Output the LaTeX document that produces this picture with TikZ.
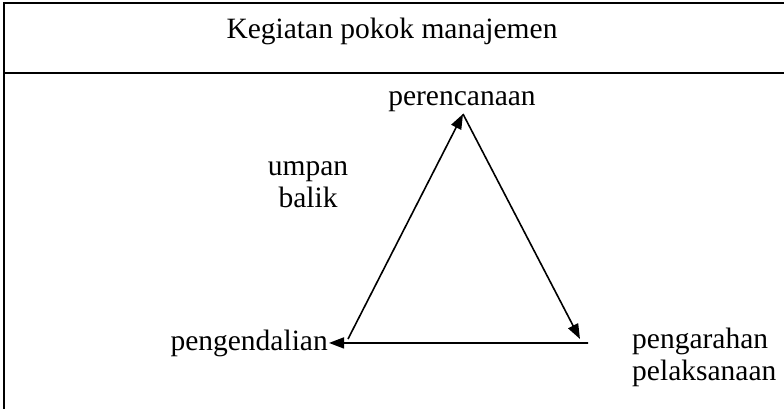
\documentclass[tikz,border=0pt]{standalone}
\usepackage{fontspec}
\setmainfont{Liberation Serif}
\usepackage{tikz}
\usetikzlibrary{arrows.meta,positioning}
\tikzset{
  cycletext/.style={
    inner sep=0pt, align=left,
    font=\fontsize{29.5}{32}\selectfont
  },
  cyclearrow/.style={-{Triangle[length=15pt,width=11pt]}, line width=1.6pt},
  tablerule/.style={line width=2.8pt},
}

\begin{document}
\begin{tikzpicture}[x=1pt,y=-1pt]
  \useasboundingbox (0,0) rectangle (784,409);
  % table frame
  \draw[tablerule] (784,3) -- (4,3) -- (4,409);
  \draw[tablerule] (4,73) -- (784,73);
  \node[cycletext, anchor=base] (title) at (392,39) {Kegiatan pokok manajemen};

  % triangle corners
  \coordinate (apex) at (463,114);
  \coordinate (sw) at (348,339);
  \coordinate (se) at (588,343);
  \coordinate (setip) at (580,339);

  \node[cycletext, anchor=base] (plan) at (462,106) {perencanaan};
  \node[cycletext, anchor=base east, inner xsep=1pt] (ctrl) at (329,350) {pengendalian};
  \node[cycletext, anchor=base west] (exec) at (632,380) {pengarahan\\pelaksanaan};
  \node[cycletext, align=center, anchor=base] (fb) at (308,207) {umpan\\balik};

  \draw[cyclearrow] (sw) -- (apex);
  \draw[cyclearrow] (apex) -- (setip);
  \draw[cyclearrow] (se) -- (ctrl.east);
\end{tikzpicture}
\end{document}
